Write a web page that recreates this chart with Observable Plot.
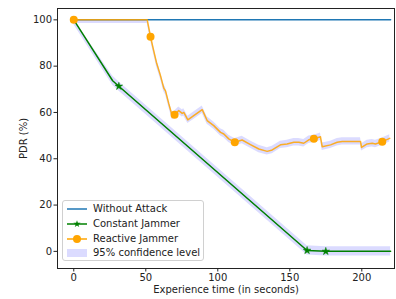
<!DOCTYPE html>
<html><head><meta charset="utf-8">
<script src="https://cdn.jsdelivr.net/npm/d3@7"></script>
<script src="https://cdn.jsdelivr.net/npm/@observablehq/plot@0.6"></script>
<style>
body{margin:0;background:#fff;font-family:"DejaVu Sans",sans-serif;}
#wrap{position:relative;width:396px;height:299px;}
#legend{position:absolute;left:62px;top:200px;width:142px;height:61px;box-sizing:border-box;border:1px solid #d0d0d0;border-radius:3px;background:rgba(255,255,255,0.8);font-size:10px;color:#222;}
.row{position:absolute;left:0;height:14px;display:flex;align-items:center;}
.row svg{position:absolute;left:4px;}
.row span{position:absolute;left:30px;white-space:nowrap;line-height:14px;}
</style></head>
<body><div id="wrap"><div id="chart"></div><div id="legend"></div></div>
<script>
// Without Attack
const blueTime = [0, 220];
const blueValue = [100, 100];
// Constant Jammer
const greenTime = [0, 27, 31.3, 162, 175, 220];
const greenValue = [100, 73.7, 71.3, 0.4, 0, 0];
const greenMarkerTime = [31.3, 162, 175];
const greenMarkerValue = [71.3, 0.4, 0];
// Reactive Jammer
const orangeTime = [0, 51, 53.3, 55, 57.4, 60.2, 62.5, 63.7, 66, 68.3, 70, 72.9, 75.3, 76.4, 79.2, 83.3, 89.2, 92.6, 97.2, 101.9, 104.2, 107.6, 111.8, 116.9, 122.7, 128.5, 134.3, 137.8, 143.5, 148.1, 152.8, 156.3, 159.7, 163.2, 166.7, 171.3, 172.5, 178.3, 182.9, 186.4, 199.1, 199.8, 203.7, 207.2, 209.5, 214.2, 219.4];
const orangeValue = [100, 100, 92.7, 88, 81.6, 75.9, 70.5, 69.3, 63.7, 58.6, 59.0, 60.8, 59.6, 60.0, 56.8, 58.6, 61.2, 56.5, 54.3, 51.4, 50.7, 48.6, 47.1, 48.1, 46.1, 44.2, 43.2, 43.8, 46.0, 46.4, 47.1, 47.1, 46.7, 48.2, 48.6, 49.5, 45.2, 46.0, 47.1, 47.5, 47.5, 44.9, 46.4, 46.7, 46.4, 47.4, 48.8];
const orangeMarkerTime = [0, 53.3, 70, 111.8, 166.7, 214.2];
const orangeMarkerValue = [100, 92.7, 59.0, 47.1, 48.6, 47.4];
// 95% confidence half widths (PDR points)
const greenConfidence = 2.0;
const orangeConfidence = 1.6;
const xTicks = [0, 50, 100, 150, 200];
const yTicks = [0, 20, 40, 60, 80, 100];
const legendLabels = ["Without Attack", "Constant Jammer", "Reactive Jammer", "95% confidence level"];

const blue = blueTime.map((t, i) => ({t, v: blueValue[i]}));
const green = greenTime.map((t, i) => ({t, v: greenValue[i], lo: greenValue[i] - greenConfidence, hi: Math.min(100, greenValue[i] + greenConfidence)}));
const orange = orangeTime.map((t, i) => ({t, v: orangeValue[i], lo: orangeValue[i] - orangeConfidence, hi: Math.min(100, orangeValue[i] + orangeConfidence)}));
const greenM = greenMarkerTime.map((t, i) => ({t, v: greenMarkerValue[i]}));
const orangeM = orangeMarkerTime.map((t, i) => ({t, v: orangeMarkerValue[i]}));

const C_BLUE = "#1f77b4", C_GREEN = "green", C_ORANGE = "orange", C_BAND = "#0000ff", BAND_OP = 0.14;

const chart = Plot.plot({
  width: 396, height: 299,
  marginLeft: 57, marginRight: 2, marginTop: 8, marginBottom: 31,
  style: {fontFamily: "DejaVu Sans, sans-serif", fontSize: "10px", color: "#222", background: "#fff"},
  x: {domain: [-11.3, 222.7]},
  y: {domain: [-7.4, 104.9]},
  marks: [
    Plot.areaY(green, {x: "t", y1: "lo", y2: "hi", fill: C_BAND, fillOpacity: BAND_OP}),
    Plot.areaY(orange, {x: "t", y1: "lo", y2: "hi", fill: C_BAND, fillOpacity: BAND_OP}),
    Plot.line(blue, {x: "t", y: "v", stroke: C_BLUE, strokeWidth: 1.5}),
    Plot.line(green, {x: "t", y: "v", stroke: C_GREEN, strokeWidth: 1.5}),
    Plot.dot(greenM, {x: "t", y: "v", symbol: "star", r: 2.4, fill: C_GREEN, stroke: C_GREEN, strokeWidth: 0.5}),
    Plot.line(orange, {x: "t", y: "v", stroke: C_ORANGE, strokeWidth: 1.5, strokeOpacity: 0.85}),
    Plot.dot(orangeM, {x: "t", y: "v", r: 4, fill: C_ORANGE}),
    Plot.frame({stroke: "#222", strokeWidth: 1}),
    Plot.axisX({ticks: xTicks, tickSize: 3.5, tickPadding: 2, label: "Experience time (in seconds)", labelAnchor: "center", labelArrow: "none", labelOffset: 24}),
    Plot.axisY({ticks: yTicks, tickSize: 3.5, tickPadding: 2, label: "PDR (%)", labelAnchor: "center", labelArrow: "none", labelOffset: 38})
  ]
});
document.getElementById("chart").appendChild(chart);

// legend
const legend = document.getElementById("legend");
const rowTops = [1, 16, 31, 45];
const samples = [
  `<line x1="0" y1="7" x2="20" y2="7" stroke="${C_BLUE}" stroke-width="1.5"/>`,
  `<line x1="0" y1="7" x2="20" y2="7" stroke="${C_GREEN}" stroke-width="1.5"/><path transform="translate(10,7)" d="${d3.symbol(d3.symbolStar, 16)()}" fill="${C_GREEN}"/>`,
  `<line x1="0" y1="7" x2="20" y2="7" stroke="${C_ORANGE}" stroke-width="1.5"/><circle cx="10" cy="7" r="4" fill="${C_ORANGE}"/>`,
  `<rect x="0" y="3" width="20" height="8" fill="${C_BAND}" fill-opacity="${BAND_OP}"/>`
];
legendLabels.forEach((lab, i) => {
  const r = document.createElement("div");
  r.className = "row";
  r.style.top = rowTops[i] + "px";
  r.innerHTML = `<svg width="20" height="14">${samples[i]}</svg><span>${lab}</span>`;
  legend.appendChild(r);
});
</script></body></html>
